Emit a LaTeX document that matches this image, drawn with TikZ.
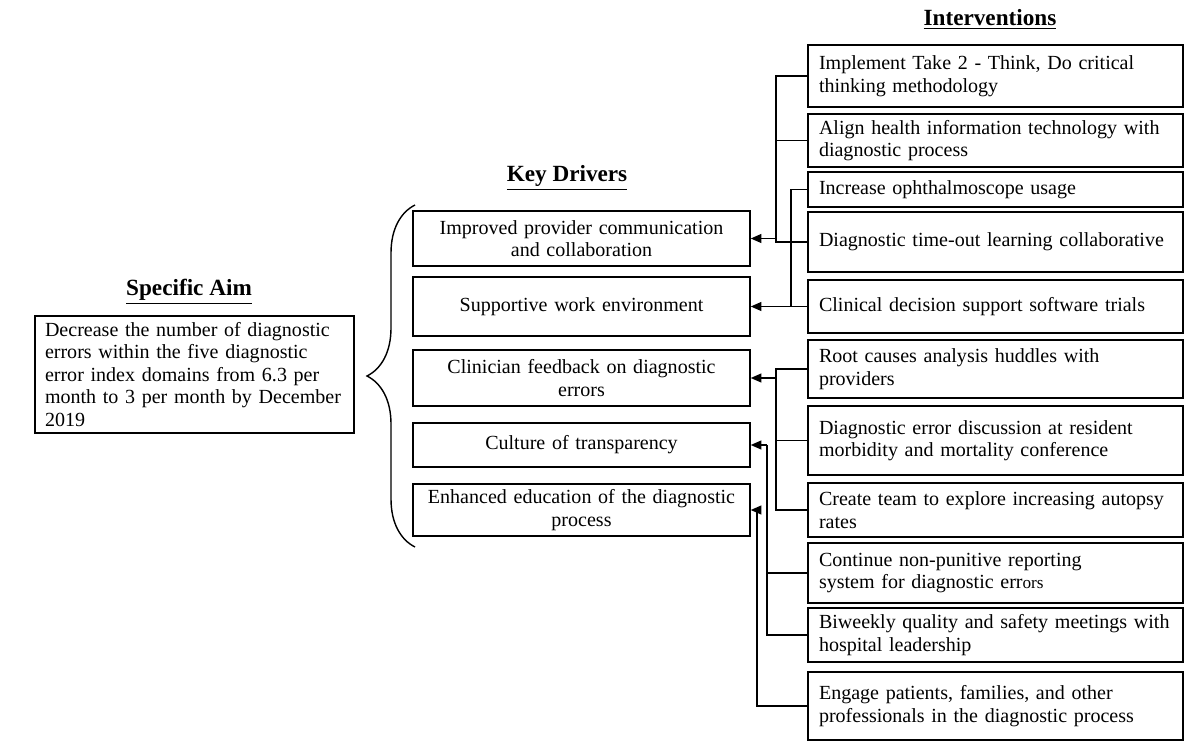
\documentclass[tikz,border=0pt]{standalone}
\usepackage{fontspec}
\setmainfont{Liberation Serif}
\usetikzlibrary{arrows.meta}
\usetikzlibrary{decorations.pathreplacing}

\begin{document}
\begin{tikzpicture}[font=\fontsize{11.4}{12.8}\selectfont]
\useasboundingbox (0,0) rectangle (24,-15.08);
\begin{scope}[every node/.style={font=\fontsize{13.2}{15}\selectfont\bfseries}]
    \node (tAim) at (3.78,-5.84) {\underline{Specific Aim}};
    \node (tKey) at (11.34,-3.56) {\underline{Key Drivers}};
    \node (tInt) at (19.80,-0.38) {\underline{Interventions}};
\end{scope}
\node[draw,line width=0.8pt,text width=5.98cm,inner xsep=0.2cm,
      minimum height=2.34cm,align=left] (Aim) at (3.89,-7.49)
    {Decrease the number of diagnostic\\errors within the five diagnostic\\
     error index domains from 6.3 per\\month to 3 per month by December\\2019};
\begin{scope}[every node/.style={draw,line width=0.8pt,text width=6.34cm,
              inner xsep=0.2cm,inner ysep=0pt,align=center}]
    \node[minimum height=1.10cm] (K1) at (11.63,-4.77) {Improved provider communication\\and collaboration};
    \node[minimum height=1.18cm] (K2) at (11.63,-6.13) {Supportive work environment};
    \node[minimum height=1.12cm] (K3) at (11.63,-7.56) {Clinician feedback on diagnostic\\errors};
    \node[minimum height=0.88cm] (K4) at (11.63,-8.90) {Culture of transparency};
    \node[minimum height=1.04cm] (K5) at (11.63,-10.20) {Enhanced education of the diagnostic\\process};
\end{scope}
\begin{scope}[every node/.style={draw,line width=0.8pt,text width=7.06cm,
              inner xsep=0.22cm,inner ysep=0pt,align=left}]
    \node[minimum height=1.24cm] (I1) at (19.91,-1.52) {Implement Take 2 - Think, Do critical\\thinking methodology};
    \node[minimum height=1.06cm] (I2) at (19.91,-2.81) {Align health information technology with\\diagnostic process};
    \node[minimum height=0.70cm] (I3) at (19.91,-3.79) {Increase ophthalmoscope usage};
    \node[minimum height=1.20cm] (I4) at (19.91,-4.84) {Diagnostic time-out learning collaborative};
    \node[minimum height=1.06cm] (I5) at (19.91,-6.13) {Clinical decision support software trials};
    \node[minimum height=1.16cm] (I6) at (19.91,-7.38) {Root causes analysis huddles with\\providers};
    \node[minimum height=1.38cm] (I7) at (19.91,-8.81) {Diagnostic error discussion at resident\\morbidity and mortality conference};
    \node[minimum height=1.08cm] (I8) at (19.91,-10.20) {Create team to explore increasing autopsy\\rates};
    \node[minimum height=1.20cm] (I9) at (19.91,-11.46) {Continue non-punitive reporting\\system for diagnostic err{\fontsize{9.8}{12.8}\selectfont ors}};
    \node[minimum height=1.08cm] (I10) at (19.91,-12.70) {Biweekly quality and safety meetings with\\hospital leadership};
    \node[minimum height=1.36cm] (I11) at (19.91,-14.12) {Engage patients, families, and other\\professionals in the diagnostic process};
\end{scope}
\begin{scope}[every edge/.style={draw=black,line width=0.8pt},
              drive/.style={-{Triangle[length=6pt,width=5pt,fill=black]}},
              elbow/.style={to path={-| (\tikztotarget)}}]
    \coordinate (jA) at (15.52,-4.77);
    \coordinate (jB) at (15.82,-6.13);
    \coordinate (jC) at (15.52,-7.56);
    \coordinate (jD) at (15.34,-8.90);
    \coordinate (jE) at (15.14,-10.20);
    \path [-] (I1.west) edge[elbow] (jA);
    \path [-] (I2.west) edge[elbow] (jA);
    \path [-] (I4.west) edge[elbow] (jA);
    \draw [drive,line width=0.8pt] (jA) -- (K1.east);
    \path [-] (I3.west) edge[elbow] (jB);
    \draw [drive,line width=0.8pt] (I5.west) -- (K2.east);
    \path [-] (I6.west) edge[elbow] (jC);
    \path [-] (I7.west) edge[elbow] (jC);
    \path [-] (I8.west) edge[elbow] (jC);
    \draw [drive,line width=0.8pt] (jC) -- (K3.east);
    \path [-] (I9.west) edge[elbow] (jD);
    \path [-] (I10.west) edge[elbow] (jD);
    \draw [drive,line width=0.8pt] (jD) -- (K4.east);
    \path [-] (I11.west) edge[elbow] (jE);
    \draw [drive,line width=0.8pt] (jE) -- (K5.east);
\end{scope}
\coordinate (bBot) at (8.30,-10.94);
\coordinate (bTop) at (8.30,-4.10);
\draw[line width=0.8pt,decorate,decoration={brace,amplitude=0.96cm}] (bBot) -- (bTop);
\end{tikzpicture}
\end{document}
